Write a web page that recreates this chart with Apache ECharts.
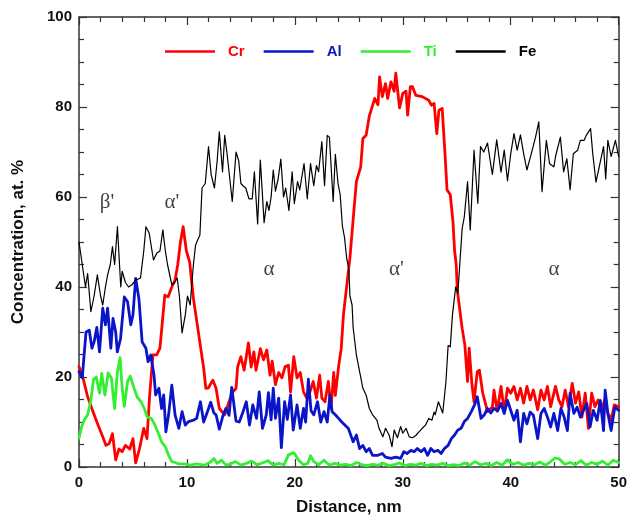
<!DOCTYPE html>
<html><head><meta charset="utf-8">
<script src="https://cdn.jsdelivr.net/npm/echarts/dist/echarts.min.js"></script>
<style>html,body{margin:0;padding:0;background:#fff}#c{width:630px;height:523px}</style>
</head><body><div id="c"></div>
<script>
// Concentration profiles (distance nm, at. %)
const cr = [[0,22.3],[0.3,20.5],[0.8,15.6],[1.3,12.3],[1.7,9.7],[2.2,6.7],[2.5,4.8],[2.8,5.2],[3.1,7.4],[3.4,1.6],[3.7,4],[4.0,3.4],[4.3,4.8],[4.7,4],[5.0,6.3],[5.25,0.9],[5.6,4],[6.0,8.6],[6.3,6.3],[6.55,16],[6.85,24.9],[7.2,24.9],[7.5,26.4],[7.95,38.2],[8.25,37.8],[8.6,40],[8.9,41.5],[9.15,45],[9.4,50],[9.65,53.4],[9.95,48],[10.25,45.6],[10.6,37.5],[11.1,29.3],[11.55,22],[11.75,17.5],[12.0,17.6],[12.4,19.3],[12.7,17.5],[13.0,13],[13.5,11.6],[13.9,14.5],[14.2,16.5],[14.55,17.5],[14.7,22.3],[15.0,24.5],[15.3,21.5],[15.7,27.6],[15.95,22.2],[16.2,25.6],[16.4,21.5],[16.8,26.3],[17.1,23.8],[17.4,26],[17.7,20.4],[17.9,23.5],[18.2,18.3],[18.5,21],[18.8,19.8],[19.1,22.3],[19.4,22.6],[19.6,16.7],[19.9,24.5],[20.2,19.8],[20.5,21],[20.8,16.7],[21.1,15.3],[21.4,16.7],[21.7,19],[22.0,15.3],[22.3,20.4],[22.5,15.3],[22.8,14.5],[23.1,19],[23.35,13],[23.6,21],[23.75,15.9],[24.05,22.3],[24.3,26.4],[24.5,33.8],[24.85,41.2],[25.1,46.4],[25.4,55],[25.7,63.4],[26.1,66.7],[26.3,73],[26.6,73.7],[26.9,78],[27.4,81.9],[27.7,80.5],[27.85,86.7],[28.1,82.3],[28.4,85.2],[28.6,81.9],[28.9,85.6],[29.2,83.5],[29.35,87.5],[29.7,79.8],[30.0,83],[30.3,83.5],[30.45,78.2],[30.7,84.5],[30.9,84.5],[31.2,82.6],[31.8,82.3],[32.4,81.5],[32.65,80.4],[32.9,80.8],[33.15,74.1],[33.35,79.3],[33.65,79.7],[33.9,70],[34.1,61.6],[34.4,60.5],[34.65,54.5],[34.8,48],[34.95,45],[35.05,39.3],[35.5,30.8],[35.75,27.1],[36.0,19],[36.15,26.4],[36.4,18.5],[36.6,14.5],[36.9,21.2],[37.1,21.5],[37.4,16.5],[37.85,12.3],[38.3,13.3],[38.45,17.1],[38.75,12.4],[39.1,17.9],[39.4,12.4],[39.7,17.5],[40.0,16.4],[40.3,17.9],[40.6,14.9],[40.9,17.5],[41.2,14.2],[41.5,17.9],[41.8,14.9],[42.1,17.1],[42.5,12.7],[42.8,17.1],[43.1,14.9],[43.4,17.9],[43.7,13.4],[44.15,17.9],[44.45,14.9],[44.75,13.4],[45.05,17.1],[45.35,13.4],[45.7,18.6],[46.0,14.2],[46.3,16.7],[46.6,11.1],[46.9,16.4],[47.2,8.6],[47.5,16.4],[47.8,13.4],[48.1,14.9],[48.4,12.3],[48.7,14.9],[49.0,12],[49.3,10.5],[49.6,13.8],[50,13.4]];

const al = [[0,21.2],[0.3,19.8],[0.65,30],[0.95,30.4],[1.2,26.4],[1.4,27.8],[1.65,31],[1.9,25.6],[2.2,35.3],[2.45,31.6],[2.65,35.3],[2.95,26.4],[3.15,33],[3.4,30],[3.55,25.6],[3.85,28.5],[4.2,37.8],[4.5,36.7],[4.8,31.6],[5.0,33.8],[5.25,41.9],[5.55,37.4],[5.85,27.8],[6.2,26.4],[6.4,23.4],[6.65,24.9],[6.95,20.4],[7.1,16],[7.4,17.5],[7.65,13],[7.85,16],[8.05,7.8],[8.3,11.6],[8.6,18.2],[8.9,11.6],[9.25,8.6],[9.55,12.3],[9.85,9.3],[10.15,10.1],[10.6,10.4],[10.9,10.8],[11.25,14.5],[11.55,10],[11.9,12.3],[12.2,14.4],[12.5,12],[12.7,11.6],[13.0,8.4],[13.3,11.1],[13.6,13],[13.9,11.5],[14.15,17.7],[14.55,10.2],[14.85,10],[15.2,12.3],[15.5,14.5],[15.8,9.3],[16.1,13.8],[16.45,10.8],[16.7,16.7],[17.0,8.6],[17.35,11.6],[17.55,16.5],[17.8,10.5],[18.0,17.5],[18.2,10.8],[18.5,15.3],[18.75,4.3],[19.05,14.5],[19.3,10.6],[19.6,16],[19.85,8.2],[20.2,13.8],[20.5,8.6],[20.8,13],[21.0,10],[21.25,19.5],[21.5,12.5],[21.75,11.6],[22.1,14.5],[22.4,10],[22.7,12.3],[23.0,10],[23.25,16],[23.45,12.3],[23.75,11.6],[24.05,10.8],[24.35,10],[24.65,9.3],[24.95,8.6],[25.1,8.6],[25.4,5.6],[25.7,7.1],[26.0,4.1],[26.3,4.8],[26.6,3.4],[26.9,4.1],[27.2,2.6],[27.7,2.6],[28.1,3],[28.4,2.2],[28.9,1.9],[29.35,2.2],[29.8,1.9],[30.1,3.4],[30.4,3],[30.75,3.7],[31.05,3.4],[31.35,4.1],[31.7,3.4],[32.0,4.1],[32.3,2.6],[32.6,4.1],[32.9,3.4],[33.25,3.7],[33.55,3],[33.85,4.1],[34.2,4.8],[34.5,6.3],[34.8,7.1],[35.1,8.2],[35.4,8.6],[35.7,10.1],[36.0,10.8],[36.35,12.3],[36.65,13.8],[36.9,15.6],[37.25,10.8],[37.55,11.6],[37.85,13],[38.15,12],[38.45,13],[38.8,12.5],[39.1,14.1],[39.4,11.9],[39.7,14.8],[40.0,12.6],[40.3,10.4],[40.6,12.6],[40.9,5.6],[41.2,11.9],[41.5,9.6],[41.8,12.2],[42.1,11.5],[42.5,6.3],[42.8,11.9],[43.1,13],[43.4,11.1],[43.7,8.9],[44.0,11.9],[44.35,8.1],[44.65,13],[44.95,11.1],[45.25,8.1],[45.5,16.4],[45.85,11.9],[46.15,13.3],[46.45,11.1],[46.75,12.6],[47.05,14.1],[47.35,8.9],[47.65,12.6],[48.0,10.4],[48.3,14.8],[48.6,8.1],[48.75,17.1],[49.0,11.9],[49.3,8.1],[49.65,13.3],[50,12.6]];

const ti = [[0,6.4],[0.25,9],[0.5,10.5],[0.8,11.6],[1.1,14.9],[1.35,19.5],[1.6,20],[1.9,16.4],[2.1,20.8],[2.4,16],[2.7,20.9],[3.0,19.8],[3.3,13],[3.55,21],[3.8,24.3],[4.0,17.5],[4.2,13.5],[4.5,19],[4.75,20.2],[5.1,17.5],[5.4,15.5],[5.75,14.5],[6.05,13],[6.35,11],[6.7,10.8],[7.0,9.5],[7.35,7.5],[7.65,5.6],[8.0,4.5],[8.3,2.6],[8.6,1.2],[8.9,1.0],[9.25,0.7],[9.75,0.7],[10.3,0.4],[10.9,0.7],[11.6,0.4],[12.2,1.1],[12.5,1.9],[12.8,0.8],[13.2,1.5],[13.6,0.5],[14.0,0.6],[14.5,1.2],[15.0,0.4],[15.5,0.8],[16.0,1.3],[16.5,0.5],[17.0,0.9],[17.5,1.4],[18.0,0.4],[18.5,0.8],[19.0,0.5],[19.4,2.7],[19.9,3.2],[20.35,1.5],[20.8,0.5],[21.2,0.8],[21.45,2.5],[21.75,1.2],[22.2,0.5],[22.7,1.5],[23.2,0.4],[23.7,0.8],[24.2,0.4],[24.7,0.6],[25.2,0.3],[25.7,1.0],[26.2,0.5],[26.7,0.3],[27.2,0.6],[27.7,0.4],[28.2,0.8],[28.7,0.3],[29.2,0.5],[29.7,0.9],[30.2,0.3],[30.7,0.6],[31.2,0.4],[31.7,0.8],[32.2,0.3],[32.7,0.6],[33.2,0.4],[33.7,0.8],[34.2,0.3],[34.7,0.5],[35.2,0.3],[35.7,0.9],[36.2,0.4],[36.7,1.2],[37.2,0.5],[37.7,0.8],[38.2,0.3],[38.7,1.0],[39.2,0.4],[39.7,1.6],[40.2,0.6],[40.7,1.0],[41.2,0.4],[41.7,0.8],[42.2,0.5],[42.7,1.1],[43.2,0.4],[43.6,1.0],[44.1,2.0],[44.5,1.8],[45.0,0.6],[45.5,1.0],[46.0,0.5],[46.5,1.4],[47.0,0.4],[47.5,1.0],[48.0,0.6],[48.5,1.3],[49.0,0.4],[49.5,1.5],[50,1.0]];

const fe = [[0,50],[0.3,45],[0.6,40],[0.8,43],[1.1,34.5],[1.4,38],[1.7,42.7],[2.0,38],[2.2,36],[2.45,40],[2.65,42.7],[2.9,45],[3.1,49],[3.3,45],[3.56,53.4],[3.87,40],[4.0,43.5],[4.3,41],[4.6,40],[4.9,40.5],[5.25,41.5],[5.7,42],[6.0,48],[6.2,53.4],[6.5,52],[6.9,46],[7.2,47.5],[7.5,48],[7.77,52.7],[8.0,48],[8.2,45],[8.6,40.5],[8.85,41],[9.1,42],[9.3,38],[9.55,29.8],[9.85,33.8],[10.05,38],[10.3,36],[10.45,40.6],[10.6,45],[10.8,49.3],[11.0,50.5],[11.2,51.5],[11.4,62],[11.7,63],[12.0,71.2],[12.25,64.9],[12.55,62],[12.8,68],[13.0,74.5],[13.3,65.6],[13.5,73.7],[13.7,70],[13.9,65.6],[14.2,59],[14.55,70],[14.8,68],[15.0,63],[15.2,62.5],[15.45,62],[15.75,59.6],[16.05,59.6],[16.25,65.6],[16.55,54],[16.8,68.2],[17.15,54.3],[17.4,59],[17.6,57],[17.8,60],[18.0,66],[18.2,61.3],[18.45,64],[18.7,68.4],[18.95,60],[19.15,62],[19.45,57],[19.75,65.6],[19.95,58.5],[20.25,63.4],[20.45,61.6],[20.85,67.4],[21.15,59.6],[21.45,67.4],[21.75,62.5],[22.0,67],[22.2,65.6],[22.5,72.3],[22.75,62.5],[23.0,73.7],[23.2,73.3],[23.55,59],[23.75,69.5],[24.0,63],[24.2,60.5],[24.4,53.6],[24.6,51],[24.8,46.4],[25.0,44],[25.1,38],[25.3,36],[25.4,31],[25.7,24.9],[26.0,21.2],[26.3,17.5],[26.6,16],[26.9,13],[27.2,11.6],[27.6,10.4],[27.8,8.6],[28.15,6.7],[28.4,8.6],[28.75,7],[29.0,4.5],[29.2,8.2],[29.5,6.5],[29.8,9],[30.0,7.5],[30.3,8.6],[30.6,6.7],[30.9,6.5],[31.2,7],[31.5,7.8],[31.8,8.6],[32.1,9.3],[32.4,10.8],[32.7,10.4],[32.9,12.2],[33.0,11.6],[33.3,14.5],[33.7,12],[34.0,19],[34.2,27],[34.4,26.7],[34.6,33.8],[34.9,40],[35.1,38.6],[35.25,44],[35.5,53],[35.7,55.6],[36.0,63.4],[36.25,52.7],[36.6,70.4],[36.95,58.6],[37.2,71.2],[37.5,70],[37.85,72],[38.1,68],[38.3,65],[38.7,72.7],[39.1,65.5],[39.4,70.4],[39.7,63.6],[40.0,69.6],[40.3,74.1],[40.6,70.4],[40.9,73.8],[41.2,69.6],[41.5,66],[41.9,69.6],[42.3,73.3],[42.6,76.7],[42.9,61.2],[43.3,72.6],[43.6,67.4],[44.0,66.7],[44.15,69],[44.6,73.3],[44.9,65.6],[45.2,68.5],[45.5,61.6],[45.8,69.6],[46.2,70.4],[46.45,72.6],[46.8,72.6],[47.0,73.7],[47.4,75.2],[47.6,69.6],[47.9,63.3],[48.2,66.7],[48.6,71.2],[48.8,64],[49.0,72.6],[49.3,69],[49.7,72.6],[50,69]];

// Phase labels placed in data coordinates
const phaseLabels = [
  {name: "β'", value: [2.6, 58.7]},
  {name: "α'", value: [8.6, 58.7]},
  {name: "α", value: [17.6, 43.8]},
  {name: "α'", value: [29.4, 43.8]},
  {name: "α", value: [44.0, 43.8]}
];

const seriesNames = ['Cr', 'Al', 'Ti', 'Fe'];
const seriesColors = ['#ff0000', '#0a14c8', '#33ee33', '#000000'];
const seriesWidths = [2.8, 2.8, 2.8, 1.2];
const seriesData = [cr, al, ti, fe];

const FONT = '"Liberation Sans", Arial, sans-serif';
const chart = echarts.init(document.getElementById('c'), null, {renderer: 'canvas'});

const axisCommon = {
  type: 'value',
  axisLine: {show: true, onZero: false, lineStyle: {color: '#333', width: 1.5}},
  axisTick: {show: true, inside: true, length: 8, lineStyle: {color: '#333', width: 1.2}},
  minorTick: {show: true, length: 5, lineStyle: {color: '#333', width: 1.2}},
  splitLine: {show: false},
  minorSplitLine: {show: false}
};

const option = {
  animation: false,
  backgroundColor: '#fff',
  grid: {left: 79, right: 8, top: 17, bottom: 56, containLabel: false},
  legend: {
    top: 39, left: 160,
    itemWidth: 50, itemHeight: 14, itemGap: 19,
    icon: 'path://M0,6 L50,6 L50,8.6 L0,8.6 Z',
    data: seriesNames.map((n, i) => ({name: n, textStyle: {color: seriesColors[i]}, itemStyle: {color: seriesColors[i]}})),
    textStyle: {fontFamily: FONT, fontWeight: 'bold', fontSize: 15, padding: [0, 0, 0, 8]},
    selectedMode: false
  },
  xAxis: [
    Object.assign({}, axisCommon, {
      min: 0, max: 50, interval: 10, position: 'bottom',
      minorTick: Object.assign({}, axisCommon.minorTick, {splitNumber: 5}),
      axisLabel: {show: true, margin: 8, color: '#111', fontFamily: FONT, fontWeight: 'bold', fontSize: 15},
      name: 'Distance, nm', nameLocation: 'middle', nameGap: 32,
      nameTextStyle: {color: '#111', fontFamily: FONT, fontWeight: 'bold', fontSize: 17}
    }),
    Object.assign({}, axisCommon, {
      min: 0, max: 50, interval: 10, position: 'top',
      minorTick: Object.assign({}, axisCommon.minorTick, {splitNumber: 5}),
      axisLabel: {show: false}
    })
  ],
  yAxis: [
    Object.assign({}, axisCommon, {
      min: 0, max: 100, interval: 20, position: 'left',
      minorTick: Object.assign({}, axisCommon.minorTick, {splitNumber: 4}),
      axisLabel: {show: true, margin: 7, color: '#111', fontFamily: FONT, fontWeight: 'bold', fontSize: 15},
      name: 'Concentration, at. %', nameLocation: 'middle', nameGap: 52, nameRotate: 90,
      nameTextStyle: {color: '#111', fontFamily: FONT, fontWeight: 'bold', fontSize: 17}
    }),
    Object.assign({}, axisCommon, {
      min: 0, max: 100, interval: 20, position: 'right',
      minorTick: Object.assign({}, axisCommon.minorTick, {splitNumber: 4}),
      axisLabel: {show: false}
    })
  ],
  series: seriesNames.map((n, i) => ({
    name: n, type: 'line', data: seriesData[i],
    xAxisIndex: 0, yAxisIndex: 0,
    showSymbol: false, symbol: 'none',
    lineStyle: {color: seriesColors[i], width: seriesWidths[i], join: 'round', cap: 'round'},
    itemStyle: {color: seriesColors[i]},
    clip: true, z: 2 + i
  })).concat([{
    type: 'scatter', name: 'phases', data: phaseLabels,
    symbolSize: 0, silent: true, z: 10,
    label: {show: true, position: 'inside', formatter: p => p.name,
      fontFamily: '"Liberation Serif", "DejaVu Serif", serif', fontSize: 21, color: '#111'}
  }])
};
chart.setOption(option);
</script>
</body></html>
